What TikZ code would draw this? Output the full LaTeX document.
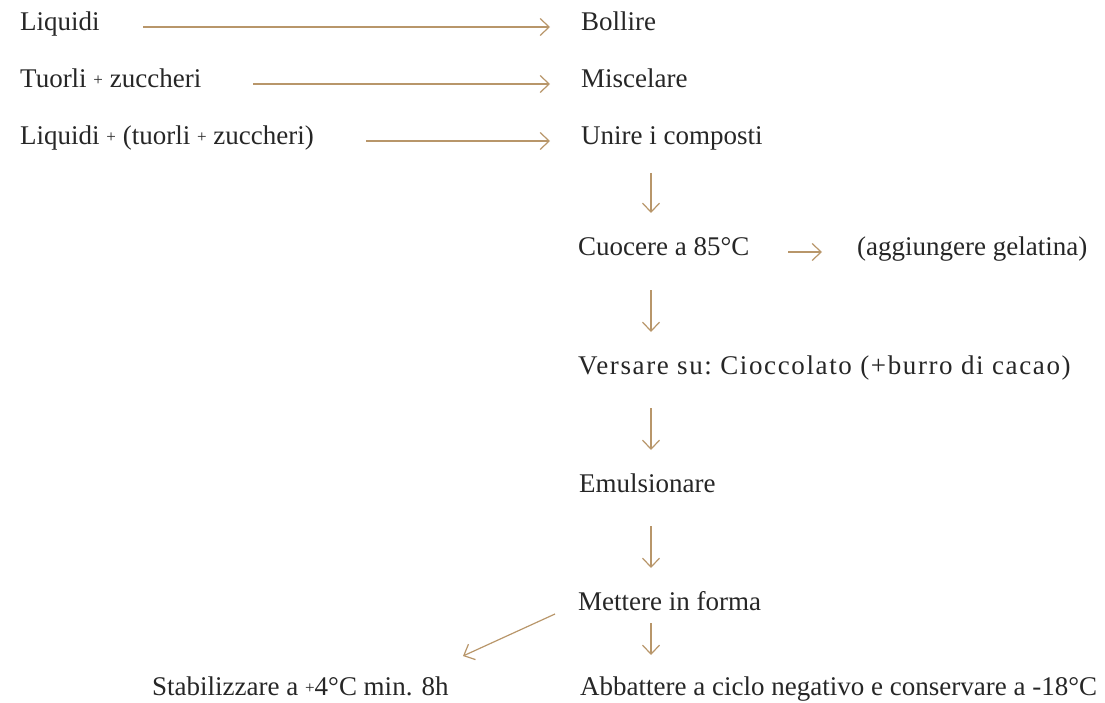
\documentclass[tikz,border=0pt]{standalone}
\usepackage{fontspec}
\setmainfont{Liberation Serif}
\usetikzlibrary{arrows.meta,calc}

\definecolor{ink}{RGB}{38,38,38}
\definecolor{tan}{RGB}{184,150,106}
\newcommand{\smallplus}{{\fontsize{17pt}{17pt}\selectfont\raisebox{2pt}{+}}}

\tikzset{
  label/.style={anchor=base west, inner sep=0pt, text=ink,
                font=\fontsize{27pt}{30pt}\selectfont},
  flow/.style={draw=tan, line width=1.2pt,
               -{Straight Barb[length=9pt,width=17pt,line width=1.2pt]}},
}

\begin{document}
\begin{tikzpicture}[x=1pt,y=-1pt]
  \useasboundingbox (0,0) rectangle (1105,703);

  % column of the vertical flow
  \coordinate (col) at (651,0);

  % inputs on the left
  \node[label] (liq)  at (20,31)  {Liquidi};
  \node[label] (tuo)  at (20,88)  {Tuorli \smallplus{} zuccheri};
  \node[label] (mix)  at (20,145) {Liquidi \smallplus{} (tuorli \smallplus{} zuccheri)};

  % steps
  \node[label] (bol)  at (581,31)  {Bollire};
  \node[label] (misc) at (581,88)  {Miscelare};
  \node[label] (uni)  at (581,145) {Unire i composti};
  \node[label] (cuo)  at (578,256) {Cuocere a 85°C};
  \node[label] (gel)  at (857,256) {(aggiungere gelatina)};
  \node[label] (ver)  at (578,374)
    {\addfontfeatures{LetterSpace=6}\frenchspacing Versare su: Cioccolato (+burro di cacao)};
  \node[label] (emu)  at (579,492) {Emulsionare};
  \node[label] (met)  at (578,610) {Mettere in forma};
  \node[label] (sta)  at (152,695) {Stabilizzare a \smallplus4°C min. 8h};
  \node[label] (abb)  at (580,695) {Abbattere a ciclo negativo e conservare a -18°C};

  % starting points of the horizontal arrows
  \coordinate (s1) at (143,27);
  \coordinate (s2) at (253,84);
  \coordinate (s3) at (366,141);

  % horizontal arrows
  \draw[flow, shorten >=31pt] (s1) -- (s1 -| bol.west);
  \draw[flow, shorten >=31pt] (s2) -- (s2 -| misc.west);
  \draw[flow, shorten >=31pt] (s3) -- (s3 -| uni.west);
  \draw[flow] ($(gel.base west)+(-69,-4)$) -- ($(gel.base west)+(-35,-4)$);

  % vertical arrows
  \draw[flow] ($(uni.base -| col)+(0,28)$) -- ($(cuo.base -| col)+(0,-43)$);
  \draw[flow] ($(cuo.base -| col)+(0,34)$) -- ($(ver.base -| col)+(0,-42)$);
  \draw[flow] ($(ver.base -| col)+(0,34)$) -- ($(emu.base -| col)+(0,-42)$);
  \draw[flow] ($(emu.base -| col)+(0,34)$) -- ($(met.base -| col)+(0,-42)$);
  \draw[flow] ($(met.base -| col)+(0,13)$) -- ($(abb.base -| col)+(0,-40)$);

  % branch towards the chilling step
  \draw[flow] ($(met.base west)+(-23,4)$) -- ($(met.base west)+(-115,46)$);
\end{tikzpicture}
\end{document}
